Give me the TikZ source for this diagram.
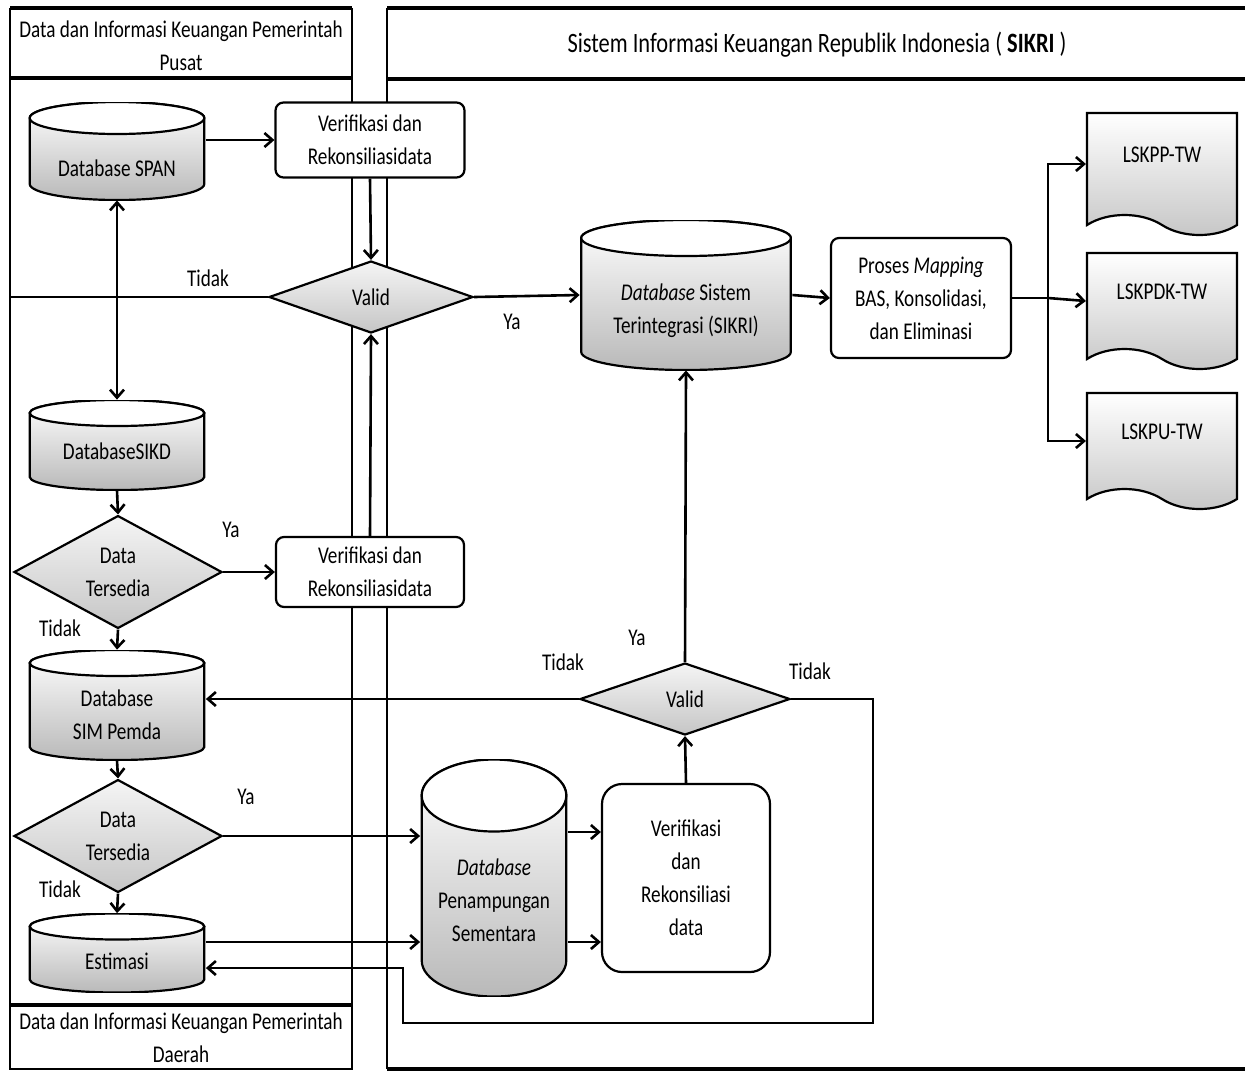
\documentclass[tikz,border=0pt]{standalone}
\usepackage{fontspec}
\setmainfont{Carlito}[FakeStretch=0.8]
\usetikzlibrary{shapes.geometric,shapes.symbols,arrows.meta,calc}

\newcommand{\dbdown}[1]{\rule{0pt}{#1}}
\newcommand{\docup}[1]{\rule[-#1]{0pt}{#1}}

\tikzset{
  lane/.style={line width=1pt},
  lanehead/.style={line width=1.8pt},
  dbase/.style={rectangle, inner sep=0pt, align=center,
    path picture={
      \draw[line width=1.1pt, top color=white, bottom color=gray!55]
        let \p1=(path picture bounding box.south west),
            \p2=(path picture bounding box.north east) in
        (\x1+0.6pt,\y2-#1) -- (\x1+0.6pt,\y1+#1)
        arc[start angle=180, end angle=360, x radius={(\x2-\x1)/2-0.6pt}, y radius=#1]
        -- (\x2-0.6pt,\y2-#1)
        arc[start angle=0, end angle=180, x radius={(\x2-\x1)/2-0.6pt}, y radius=#1]
        -- cycle;
      \draw[line width=1.1pt, fill=white]
        let \p1=(path picture bounding box.south west),
            \p2=(path picture bounding box.north east) in
        ({(\x1+\x2)/2},\y2-#1) ellipse[x radius={(\x2-\x1)/2-0.6pt}, y radius=#1];
    }},
  proc/.style={draw, line width=1.1pt, rounded corners=4pt, fill=white, align=center},
  decide/.style={diamond, draw, line width=1.1pt, inner sep=0pt,
    top color=gray!8, bottom color=gray!45, align=center},
  report/.style={tape, tape bend top=none, tape bend bottom=out and in,
    tape bend height=10pt, draw, line width=1.1pt, top color=white, bottom color=gray!45},
  arr/.style={line width=1.3pt, -{Straight Barb[length=4pt,width=7pt]}},
  conn/.style={line width=1.3pt},
  lbl/.style={inner sep=0pt}
}

\begin{document}
\begin{tikzpicture}[x=0.5pt, y=-0.5pt,
    every node/.style={font=\fontsize{12}{16.5}\selectfont}]
  \useasboundingbox (0,0) rectangle (1245,1072);

  % swimlanes
  \draw[lane] (10,8) -- (10,1069) -- (352,1069) -- (352,8);
  \draw[lanehead] (10,8) -- (352,8) (10,78) -- (352,78) (10,1005) -- (352,1005);
  \draw[lane] (387,8) -- (387,1069);
  \draw[lanehead] (387,8) -- (1245,8) (387,79) -- (1245,79) (387,1069) -- (1245,1069);
  \node (pusat) at (181,46) [align=center] {Data dan Informasi Keuangan Pemerintah\\Pusat};
  \node (daerah) at (181,1038) [align=center] {Data dan Informasi Keuangan Pemerintah\\Daerah};
  \node[font=\fontsize{14}{17}\selectfont] (sikriHead) at (817,45)
    {Sistem Informasi Keuangan Republik Indonesia ( \textbf{SIKRI} )};

  % nodes
  \node[dbase=8pt, minimum width=88.5pt, minimum height=49pt] (span) at (117,151) {\dbdown{26pt}Database SPAN};
  \node[proc, minimum width=94.5pt, minimum height=37.5pt] (verif1) at (370,140) {Verifikasi dan\\Rekonsiliasidata};
  \node[decide, minimum width=102pt, minimum height=36pt] (valid1) at (371,297) {Valid};
  \node[dbase=9pt, minimum width=106pt, minimum height=75pt] (sikri) at (686,295)
    {\dbdown{24pt}\textit{Database} Sistem\\Terintegrasi (SIKRI)};
  \node[proc, minimum width=90pt, minimum height=60pt] (mapping) at (921,298)
    {Proses \textit{Mapping}\\BAS, Konsolidasi,\\dan Eliminasi};
  \node[report, minimum width=75pt, minimum height=61pt] (lskpp) at (1162,164) {\docup{9pt}LSKPP-TW};
  \node[report, minimum width=75pt, minimum height=58pt] (lskpdk) at (1162,301) {\docup{9pt}LSKPDK-TW};
  \node[report, minimum width=75pt, minimum height=58pt] (lskpu) at (1162,441) {\docup{9pt}LSKPU-TW};

  \node[dbase=6.5pt, minimum width=88.5pt, minimum height=45pt] (sikd) at (117,445) {\dbdown{15pt}DatabaseSIKD};
  \node[decide, minimum width=104pt, minimum height=42.5pt] (avail1) at (118,572) {Data\\Tersedia};
  \node[proc, minimum width=94pt, minimum height=35pt] (verif2) at (370,572) {Verifikasi dan\\Rekonsiliasidata};
  \node[dbase=6.5pt, minimum width=88.5pt, minimum height=55pt] (pemda) at (117,705) {\dbdown{18pt}Database\\SIM Pemda};
  \node[decide, minimum width=104pt, minimum height=42pt] (avail2) at (118,836) {Data\\Tersedia};
  \node[dbase=6.5pt, minimum width=88.5pt, minimum height=39.5pt] (estim) at (117,953) {\dbdown{17pt}Estimasi};

  \node[dbase=18pt, minimum width=73.5pt, minimum height=118.5pt] (penamp) at (494,878)
    {\dbdown{31pt}\textit{Database}\\Penampungan\\Sementara};
  \node[proc, rounded corners=10pt, minimum width=84pt, minimum height=94pt] (verif3) at (686,878)
    {Verifikasi\\dan\\Rekonsiliasi\\data};
  \node[decide, minimum width=105pt, minimum height=36pt] (valid2) at (685,699) {Valid};

  % labels
  \node[lbl] (tidak1) at (208,278) {Tidak};
  \node[lbl] (ya1) at (512,322) {Ya};
  \node[lbl] (ya2) at (231,530) {Ya};
  \node[lbl] (tidak2) at (60,628) {Tidak};
  \node[lbl] (ya3) at (246,797) {Ya};
  \node[lbl] (tidak3) at (60,889) {Tidak};
  \node[lbl] (ya4) at (637,638) {Ya};
  \node[lbl] (tidak4) at (563,662) {Tidak};
  \node[lbl] (tidak5) at (810,671) {Tidak};

  % helper points
  \coordinate (laneL) at (10,297);
  \coordinate (split) at (1048,298);
  \coordinate (outE) at ([yshift=5.5pt]estim.east);
  \coordinate (backE) at ([yshift=-7.5pt]estim.east);
  \coordinate (toV1) at ([yshift=23pt]penamp.east);
  \coordinate (toV2) at ([yshift=-32pt]penamp.east);
  \coordinate (loopR) at (873,1023);
  \coordinate (loopL) at (403,968);

  % connectors
  \draw[arr] (verif1.west -| span.east) -- (verif1.west);
  \draw[arr] (verif1.south) -- (valid1.north);
  \draw[conn] (valid1.west) -- (laneL);
  \draw[conn, {Straight Barb[length=4pt,width=7pt]}-{Straight Barb[length=4pt,width=7pt]}] (span.south) -- (sikd.north);
  \draw[arr] (valid1.east) -- (sikri.west);
  \draw[arr] (sikri.east) -- (mapping.west);
  \draw[conn] (mapping.east) -- (split);
  \draw[arr] (split) |- (lskpp.west);
  \draw[arr] (split) -- (lskpdk.west);
  \draw[arr] (split) |- (lskpu.west);
  \draw[arr] (sikd.south) -- (avail1.north);
  \draw[arr] (avail1.east) -- (verif2.west);
  \draw[arr] (avail1.south) -- (pemda.north);
  \draw[arr] (verif2.north) -- (valid1.south);
  \draw[arr] (pemda.south) -- (avail2.north);
  \draw[arr] (avail2.east) -- (avail2.east -| penamp.west);
  \draw[arr] (avail2.south) -- (estim.north);
  \draw[arr] (outE) -- (outE -| penamp.west);
  \draw[arr] (toV1) -- (toV1 -| verif3.west);
  \draw[arr] (toV2) -- (toV2 -| verif3.west);
  \draw[arr] (verif3.north) -- (valid2.south);
  \draw[arr] (valid2.north) -- (sikri.south);
  \draw[arr] (valid2.west) -- (valid2.west -| pemda.east);
  \draw[arr] (valid2.east) -| (loopR) -| (loopL) -- (backE);
\end{tikzpicture}
\end{document}
